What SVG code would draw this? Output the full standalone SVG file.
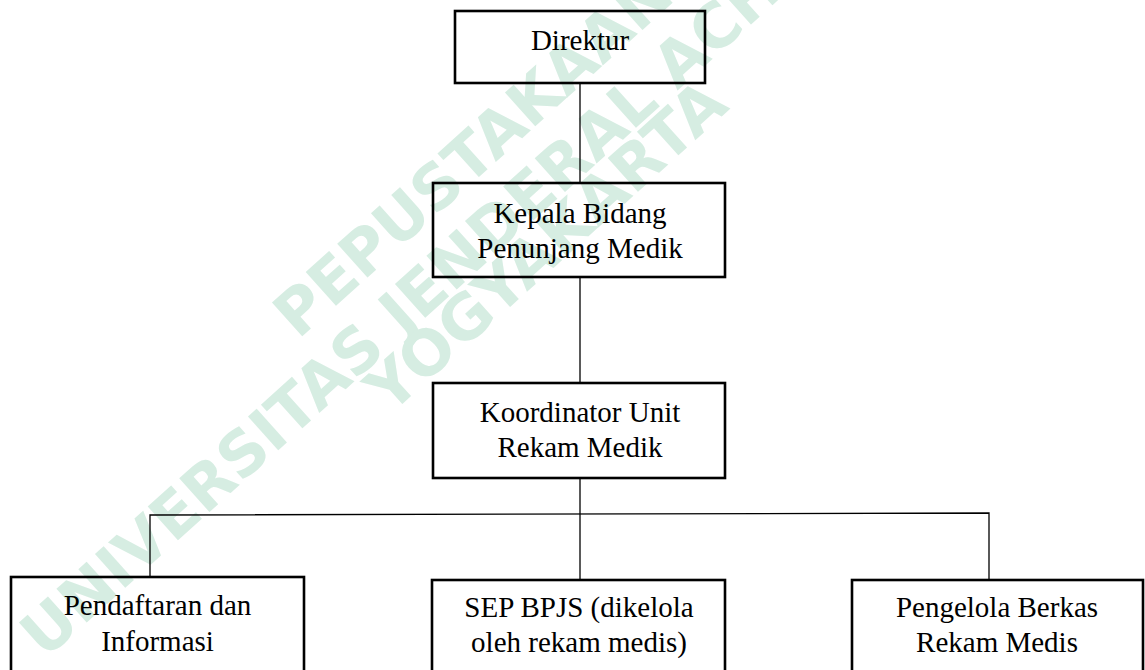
<svg xmlns="http://www.w3.org/2000/svg" width="1145" height="670" viewBox="0 0 1145 670">
  <style>
    .wm { font-family: "DejaVu Sans", "Liberation Sans", sans-serif; font-weight: bold; font-size: 62px; fill: #d6ede2; }
    .box { fill: none; stroke: #000; stroke-width: 2.6; }
    .lbl { font-family: "Liberation Serif", "Times New Roman", serif; font-size: 29px; fill: #000; text-anchor: middle; }
    .conn { fill: none; stroke: #000; stroke-width: 1.3; }
  </style>
  <rect width="1145" height="670" fill="#fff"/>
  <g id="watermark">
    <text class="wm" transform="translate(298,340) rotate(-42)">PEPUSTAKAAN</text>
    <text class="wm" transform="translate(45,660) rotate(-42)">UNIVERSITAS JENDERAL ACHMAD YANI</text>
    <text class="wm" transform="translate(390,415) rotate(-42)">YOGYAKARTA</text>
  </g>
  <g id="connectors">
    <line class="conn" x1="580" y1="83" x2="580" y2="183"/>
    <line class="conn" x1="580" y1="277" x2="580" y2="383"/>
    <line class="conn" x1="580" y1="478" x2="580" y2="580"/>
    <polyline class="conn" points="150,577 150,515 989,513 989,580"/>
  </g>
  <g id="direktur">
    <rect class="box" x="455" y="11" width="250" height="72"/>
    <text class="lbl" x="580" y="50">Direktur</text>
  </g>
  <g id="kepala-bidang">
    <rect class="box" x="433" y="183" width="292" height="94"/>
    <text class="lbl" x="580" y="223">Kepala Bidang</text>
    <text class="lbl" x="580" y="258">Penunjang Medik</text>
  </g>
  <g id="koordinator">
    <rect class="box" x="433" y="383" width="292" height="95"/>
    <text class="lbl" x="580" y="422">Koordinator Unit</text>
    <text class="lbl" x="580" y="457">Rekam Medik</text>
  </g>
  <g id="pendaftaran">
    <rect class="box" x="11" y="577" width="293" height="110"/>
    <text class="lbl" x="157.5" y="615">Pendaftaran dan</text>
    <text class="lbl" x="157.5" y="651">Informasi</text>
  </g>
  <g id="sep-bpjs">
    <rect class="box" x="432" y="580" width="293" height="110"/>
    <text class="lbl" x="579" y="617">SEP BPJS (dikelola</text>
    <text class="lbl" x="579" y="652">oleh rekam medis)</text>
  </g>
  <g id="pengelola">
    <rect class="box" x="852" y="580" width="291" height="110"/>
    <text class="lbl" x="997" y="617">Pengelola Berkas</text>
    <text class="lbl" x="997" y="652">Rekam Medis</text>
  </g>
</svg>
